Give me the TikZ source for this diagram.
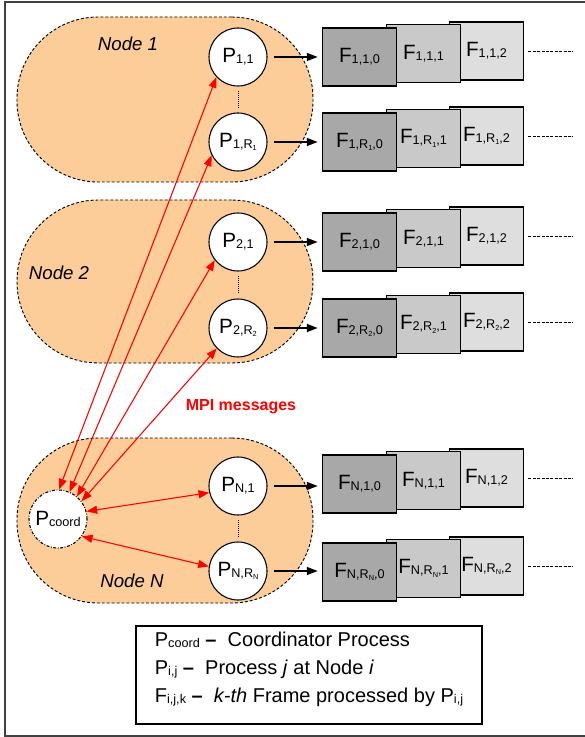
\documentclass[tikz,border=0pt]{standalone}
\usepackage{fontspec}
\setmainfont{Liberation Sans}
\usetikzlibrary{arrows.meta}
\definecolor{nodefill}{RGB}{252,204,153}
\newcommand{\lowsub}[1]{\raisebox{-0.8pt}{\fontsize{9.5}{9.5}\selectfont #1}}
\newcommand{\tinysub}[1]{\raisebox{-1.8pt}{\fontsize{5.5}{5.5}\selectfont #1}}

\begin{document}
\begin{tikzpicture}[x=0.75pt,y=-0.75pt,
  machine/.style={draw,line width=0.7pt,dash pattern=on 2.2pt off 1.5pt,fill=nodefill,rounded corners=61pt,minimum width=222pt},
  proc/.style={circle,draw,line width=0.8pt,fill=white,minimum size=43.5pt,inner sep=0pt,font=\fontsize{15.5}{15.5}\selectfont},
  frm/.style={draw,line width=0.9pt,minimum width=56pt,minimum height=43.5pt,inner sep=0pt,font=\fontsize{15.5}{15.5}\selectfont},
  trail/.style={line width=0.7pt,dash pattern=on 2.2pt off 1.1pt},
  flow/.style={line width=0.8pt,-{Triangle[length=8pt,width=6pt]},shorten <=4.5pt,shorten >=3pt},
  msg/.style={red,line width=0.8pt,{Triangle[length=8pt,width=6pt]}-{Triangle[length=8pt,width=6pt]}},
  gap/.style={line width=0.7pt,dash pattern=on 0.75pt off 0.75pt,shorten <=3.5pt,shorten >=3.5pt}]
\useasboundingbox (0,0) rectangle (584,737);
\draw[black!75,line width=1pt] (5,2) rectangle (600,736);
% compute nodes
\node[machine,minimum height=123.75pt] (node1) at (165,99.5) {};
\node[machine,minimum height=122.25pt] (node2) at (165,281.5) {};
\node[machine,minimum height=123.75pt] (nodeN) at (165,520.5) {};
\node[font=\fontsize{14}{14}\selectfont\itshape] (lab1) at (128,44) {Node 1};
\node[font=\fontsize{14}{14}\selectfont\itshape] (lab2) at (59,273) {Node 2};
\node[font=\fontsize{14}{14}\selectfont\itshape] (labN) at (132,581) {Node N};
% processes
\node[proc] (p11) at (238,57) {P\lowsub{1,1}};
\node[proc] (p1r) at (238,142) {P\lowsub{1,R\tinysub{1}}};
\node[proc] (p21) at (238,242) {P\lowsub{2,1}};
\node[proc] (p2r) at (238,328) {P\lowsub{2,R\tinysub{2}}};
\node[proc] (pn1) at (238,486) {P\lowsub{N,1}};
\node[proc] (pnr) at (238,571) {P\lowsub{N,R\tinysub{N}}};
\node[proc,dash pattern=on 2.2pt off 1.2pt on 0.6pt off 1.2pt] (pcoord) at (58,519) {P\lowsub{coord}};
\draw[gap] (p11) -- (p1r);
\draw[gap] (p21) -- (p2r);
\draw[gap] (pn1) -- (pnr);
% frames, row by row (back to front)
\node[frm,fill=black!13] (f112) at (486.5,51) {F\lowsub{1,1,2}};
\node[frm,fill=black!21] (f111) at (423.5,53.5) {F\lowsub{1,1,1}};
\node[frm,fill=black!34] (f110) at (359.5,57) {F\lowsub{1,1,0}};
\node[frm,fill=black!13] (f1r2) at (486.5,136) {F\lowsub{1,R\tinysub{1},2}};
\node[frm,fill=black!21] (f1r1) at (423.5,138.5) {F\lowsub{1,R\tinysub{1},1}};
\node[frm,fill=black!34] (f1r0) at (359.5,142) {F\lowsub{1,R\tinysub{1},0}};
\node[frm,fill=black!13] (f212) at (486.5,236) {F\lowsub{2,1,2}};
\node[frm,fill=black!21] (f211) at (423.5,238.5) {F\lowsub{2,1,1}};
\node[frm,fill=black!34] (f210) at (359.5,242) {F\lowsub{2,1,0}};
\node[frm,fill=black!13] (f2r2) at (486.5,322) {F\lowsub{2,R\tinysub{2},2}};
\node[frm,fill=black!21] (f2r1) at (423.5,324.5) {F\lowsub{2,R\tinysub{2},1}};
\node[frm,fill=black!34] (f2r0) at (359.5,328) {F\lowsub{2,R\tinysub{2},0}};
\node[frm,fill=black!13] (fn12) at (486.5,478) {F\lowsub{N,1,2}};
\node[frm,fill=black!21] (fn11) at (423.5,480.5) {F\lowsub{N,1,1}};
\node[frm,fill=black!34] (fn10) at (359.5,484) {F\lowsub{N,1,0}};
\node[frm,fill=black!13] (fnr2) at (486.5,566) {F\lowsub{N,R\tinysub{N},2}};
\node[frm,fill=black!21] (fnr1) at (423.5,568.5) {F\lowsub{N,R\tinysub{N},1}};
\node[frm,fill=black!34] (fnr0) at (359.5,572) {F\lowsub{N,R\tinysub{N},0}};
\draw[flow] (p11.east) -- (f110.west |- p11.east);
\draw[flow] (p1r.east) -- (f1r0.west |- p1r.east);
\draw[flow] (p21.east) -- (f210.west |- p21.east);
\draw[flow] (p2r.east) -- (f2r0.west |- p2r.east);
\draw[flow] (pn1.east) -- (fn10.west |- pn1.east);
\draw[flow] (pnr.east) -- (fnr0.west |- pnr.east);
\draw[trail] ([xshift=3pt]f112.east) -- ++(45,0);
\draw[trail] ([xshift=3pt]f1r2.east) -- ++(45,0);
\draw[trail] ([xshift=3pt]f212.east) -- ++(45,0);
\draw[trail] ([xshift=3pt]f2r2.east) -- ++(45,0);
\draw[trail] ([xshift=3pt]fn12.east) -- ++(45,0);
\draw[trail] ([xshift=3pt]fnr2.east) -- ++(45,0);
% MPI traffic
\draw[msg] (pcoord.88) -- (p11.223);
\draw[msg] (pcoord.67) -- (p1r.207);
\draw[msg] (pcoord.50) -- (p21.218);
\draw[msg] (pcoord.37) -- (p2r.224);
\draw[msg] (pcoord.15) -- (pn1.193);
\draw[msg] (pcoord.-36) -- (pnr.171);
\node[red,font=\fontsize{12}{12}\selectfont\bfseries] (mpi) at (241,407) {MPI messages};
% legend
\node[draw,line width=0.8pt,minimum width=259.5pt,minimum height=73.5pt,align=left,text depth=11pt,font=\fontsize{15}{21}\selectfont] (legend) at (309,675)
  {P\lowsub{coord} \textbf{--}\ \ Coordinator Process\\
   P\lowsub{i,j} \textbf{--}\ \ Process \textit{j} at Node \textit{i}\\
   F\lowsub{i,j,k} \textbf{--}\ \ \textit{k-th} Frame processed by P\lowsub{i,j}};
\end{tikzpicture}
\end{document}
